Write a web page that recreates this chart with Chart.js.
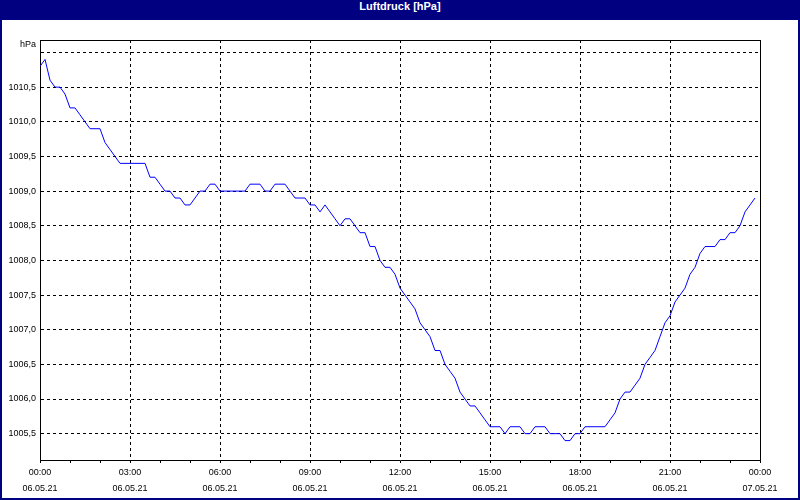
<!DOCTYPE html>
<html>
<head>
<meta charset="utf-8">
<title>Luftdruck [hPa]</title>
<script src="https://cdn.jsdelivr.net/npm/chart.js@4"></script>
<style>
  html, body { margin: 0; padding: 0; background: #fff; }
  #frame { position: relative; width: 800px; height: 500px; background: #000080; }
  #caption {
    height: 20px; line-height: 17px; text-align: center; color: #fff;
    font: bold 11px "Liberation Sans", Arial, sans-serif;
  }
  #plot { position: absolute; left: 2px; top: 20px; width: 796px; height: 478px; background: #fff; }
</style>
</head>
<body>
<div id="frame">
  <div id="caption">Luftdruck [hPa]</div>
  <div id="plot"><canvas id="pressure-chart" width="796" height="478"></canvas></div>
</div>
<script>
// one reading every 10 minutes, 06.05.21 00:00 .. 23:50
const sampleMinutes = 10;

const pressure0006 = [
  1010.8, 1010.9, 1010.6, 1010.5, 1010.5, 1010.4,
  1010.2, 1010.2, 1010.1, 1010.0, 1009.9, 1009.9,
  1009.9, 1009.7, 1009.6, 1009.5, 1009.4, 1009.4,
  1009.4, 1009.4, 1009.4, 1009.4, 1009.2, 1009.2,
  1009.1, 1009.0, 1009.0, 1008.9, 1008.9, 1008.8,
  1008.8, 1008.9, 1009.0, 1009.0, 1009.1, 1009.1
];
const pressure0612 = [
  1009.0, 1009.0, 1009.0, 1009.0, 1009.0, 1009.0,
  1009.1, 1009.1, 1009.1, 1009.0, 1009.0, 1009.1,
  1009.1, 1009.1, 1009.0, 1008.9, 1008.9, 1008.9,
  1008.8, 1008.8, 1008.7, 1008.8, 1008.7, 1008.6,
  1008.5, 1008.6, 1008.6, 1008.5, 1008.4, 1008.4,
  1008.2, 1008.2, 1008.0, 1007.9, 1007.9, 1007.8
];
const pressure1218 = [
  1007.6, 1007.5, 1007.4, 1007.3, 1007.1, 1007.0,
  1006.9, 1006.7, 1006.7, 1006.5, 1006.4, 1006.3,
  1006.1, 1006.0, 1005.9, 1005.9, 1005.8, 1005.7,
  1005.6, 1005.6, 1005.6, 1005.5, 1005.6, 1005.6,
  1005.6, 1005.5, 1005.5, 1005.6, 1005.6, 1005.6,
  1005.5, 1005.5, 1005.5, 1005.4, 1005.4, 1005.5
];
const pressure1824 = [
  1005.5, 1005.6, 1005.6, 1005.6, 1005.6, 1005.6,
  1005.7, 1005.8, 1006.0, 1006.1, 1006.1, 1006.2,
  1006.3, 1006.5, 1006.6, 1006.7, 1006.9, 1007.1,
  1007.2, 1007.4, 1007.5, 1007.6, 1007.8, 1007.9,
  1008.1, 1008.2, 1008.2, 1008.2, 1008.3, 1008.3,
  1008.4, 1008.4, 1008.5, 1008.7, 1008.8, 1008.9
];

// axis labels
const timeLabels = ["00:00", "03:00", "06:00", "09:00", "12:00", "15:00", "18:00", "21:00", "00:00"];
const dateLabels = ["06.05.21", "06.05.21", "06.05.21", "06.05.21", "06.05.21", "06.05.21", "06.05.21", "06.05.21", "07.05.21"];
const yTickValues = [1005.5, 1006.0, 1006.5, 1007.0, 1007.5, 1008.0, 1008.5, 1009.0, 1009.5, 1010.0, 1010.5, 1011.0];
const yUnit = "hPa";

const pressure = pressure0006.concat(pressure0612, pressure1218, pressure1824);
const points = pressure.map((v, i) => ({ x: i * sampleMinutes / 60, y: v }));

const tickFont = { family: "'Liberation Sans', Arial, sans-serif", size: 9 };

// frame around plot + unit label
const framePlugin = {
  id: 'frame',
  afterDraw(chart) {
    const { ctx, chartArea: a } = chart;
    ctx.save();
    ctx.strokeStyle = '#000';
    ctx.lineWidth = 1;
    ctx.beginPath();
    ctx.moveTo(a.left, a.top + 0.5);
    ctx.lineTo(a.right + 0.5, a.top + 0.5);
    ctx.lineTo(a.right + 0.5, a.bottom);
    ctx.stroke();
    ctx.fillStyle = '#000';
    ctx.font = "9px 'Liberation Sans', Arial, sans-serif";
    ctx.textAlign = 'right';
    ctx.textBaseline = 'middle';
    ctx.fillText(yUnit, a.left - 4, a.top + 5);
    ctx.restore();
  }
};

new Chart(document.getElementById('pressure-chart'), {
  type: 'line',
  data: {
    datasets: [{
      data: points,
      borderColor: '#0000ff',
      borderWidth: 1,
      pointRadius: 0,
      tension: 0,
      fill: false
    }]
  },
  options: {
    responsive: false,
    animation: false,
    devicePixelRatio: 1,
    layout: { padding: { top: 20, right: 38, left: 0, bottom: 0 } },
    plugins: { legend: { display: false }, tooltip: { enabled: false } },
    scales: {
      x: {
        type: 'linear',
        min: 0,
        max: 24,
        afterFit: s => { s.height = 38; },
        afterBuildTicks: s => { s.ticks = Array.from({ length: 25 }, (_, h) => ({ value: h })); },
        grid: {
          color: c => (c.tick && c.tick.value % 3 === 0) ? '#000' : 'rgba(0,0,0,0)',
          tickColor: '#000',
          tickLength: 3,
          lineWidth: 1
        },
        border: { display: true, color: '#000', width: 1, dash: [3, 3] },
        ticks: {
          autoSkip: false,
          maxRotation: 0,
          padding: 2,
          color: '#000',
          font: { ...tickFont, lineHeight: '16px' },
          callback: v => v % 3 === 0 ? [timeLabels[v / 3], dateLabels[v / 3]] : ''
        }
      },
      y: {
        min: 1005.12,
        max: 1011.18,
        afterFit: s => { s.width = 38; },
        afterBuildTicks: s => { s.ticks = yTickValues.map(v => ({ value: v })); },
        grid: { color: '#000', lineWidth: 1, drawTicks: false },
        border: { display: true, color: '#000', width: 1, dash: [3, 3] },
        ticks: {
          padding: 4,
          color: '#000',
          font: tickFont,
          callback: v => v >= 1011 ? '' : v.toFixed(1).replace('.', ',')
        }
      }
    }
  },
  plugins: [framePlugin]
});
</script>
</body>
</html>
